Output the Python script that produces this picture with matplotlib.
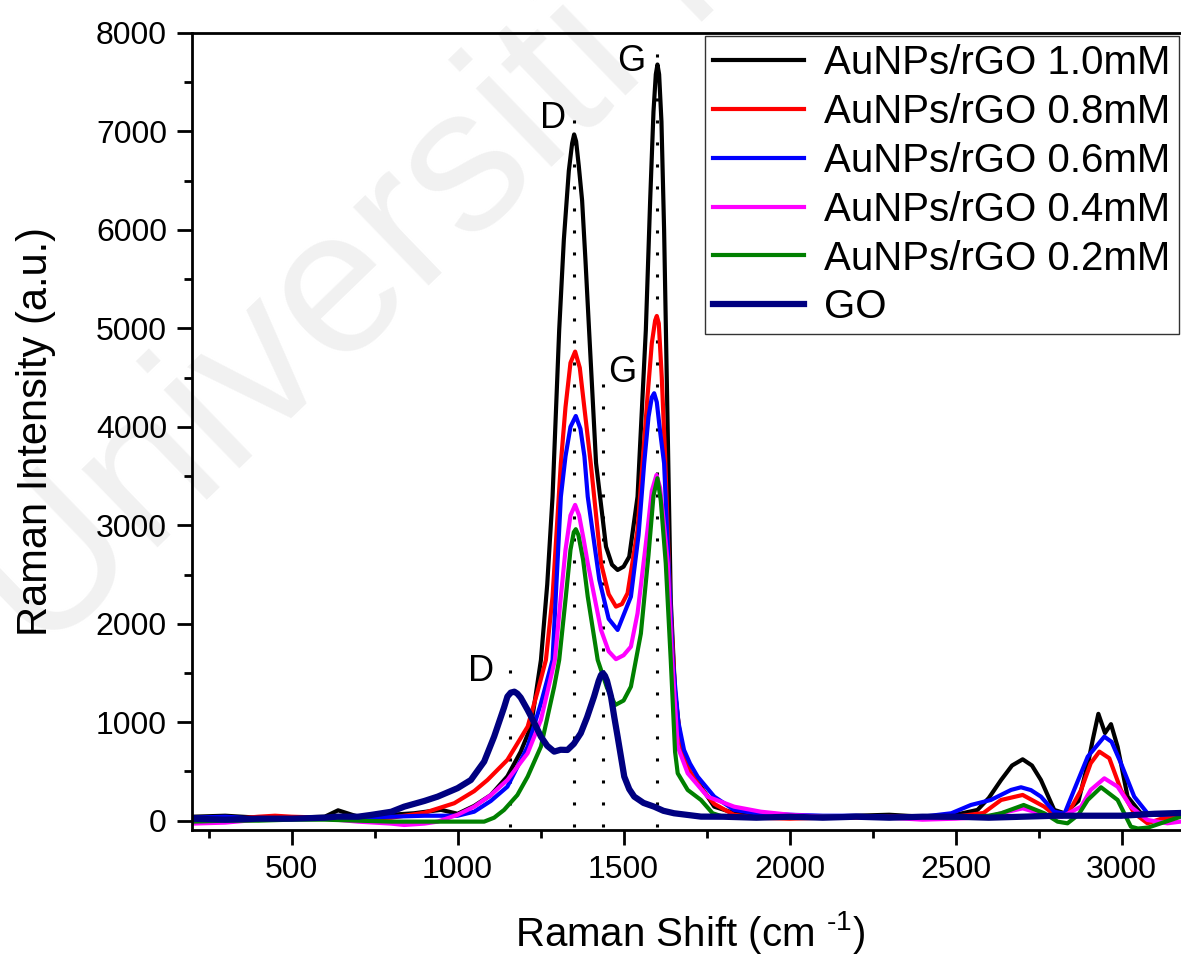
import matplotlib
matplotlib.use("Agg")
import matplotlib.pyplot as plt
from matplotlib.ticker import MultipleLocator

plt.rcParams['font.family'] = ['Liberation Sans', 'DejaVu Sans']
plt.rcParams['mathtext.fontset'] = 'custom'
plt.rcParams['mathtext.rm'] = 'Liberation Sans'
plt.rcParams['mathtext.it'] = 'Liberation Sans:italic'

# ---------------- data ----------------
x_10 = [200, 300, 400, 500, 600, 640, 700, 800, 869, 950, 1000, 1050, 1100, 1150, 1190, 1221,
        1251, 1270, 1286, 1306, 1320, 1335, 1345, 1351, 1357, 1365, 1375, 1385, 1396, 1417,
        1447, 1465, 1482, 1500, 1517, 1542, 1567, 1580, 1590, 1597, 1602, 1607, 1614, 1622,
        1630, 1642, 1655, 1670, 1682, 1700, 1733, 1773, 1832, 1900, 2000, 2100, 2200, 2300,
        2400, 2500, 2566, 2600, 2637, 2670, 2702, 2730, 2757, 2797, 2828, 2870, 2900, 2913,
        2930, 2950, 2968, 2988, 3018, 3058, 3100, 3150, 3200]
y_10 = [40, 50, 30, 30, 40, 105, 40, 60, 75, 110, 70, 150, 260, 450, 700, 955,
        1632, 2400, 3291, 4984, 5900, 6600, 6880, 6970, 6900, 6650, 6300, 5700, 4984, 3633,
        2783, 2600, 2546, 2580, 2681, 3291, 4984, 6300, 7200, 7580, 7680, 7580, 7100, 6000,
        4500, 2240, 1300, 850, 620, 480, 345, 142, 78, 50, 50, 40, 50, 60,
        40, 60, 109, 230, 413, 560, 623, 560, 413, 109, 75, 200, 600, 820,
        1085, 890, 980, 750, 244, 75, 60, 60, 70]

x_08 = [200, 300, 400, 450, 500, 600, 700, 800, 900, 990, 1050, 1090, 1150, 1211, 1240, 1266,
        1286, 1311, 1325, 1340, 1354, 1368, 1385, 1401, 1432, 1455, 1477, 1495, 1512, 1542,
        1572, 1585, 1595, 1600, 1606, 1615, 1625, 1640, 1655, 1670, 1682, 1700, 1733, 1773,
        1832, 1900, 2000, 2100, 2200, 2300, 2400, 2500, 2584, 2637, 2702, 2767, 2797, 2840,
        2878, 2907, 2933, 2963, 2998, 3038, 3078, 3120, 3160, 3200]
y_08 = [0, 10, 40, 50, 40, 30, 20, 30, 80, 177, 300, 413, 617, 955, 1300, 1632,
        2275, 3630, 4200, 4650, 4764, 4600, 4100, 3630, 2614, 2300, 2174, 2200, 2310, 2953,
        4307, 4850, 5080, 5126, 5050, 4500, 3700, 2240, 1300, 850, 650, 500, 330, 170,
        60, 30, 20, 30, 30, 40, 40, 40, 78, 210, 261, 142, 60, 80,
        312, 583, 701, 634, 312, 75, -27, 20, 40, 80]

x_06 = [200, 300, 400, 500, 600, 700, 800, 900, 1000, 1050, 1100, 1150, 1211, 1251, 1286,
        1311, 1325, 1340, 1356, 1370, 1382, 1392, 1427, 1455, 1482, 1522, 1545, 1562, 1575,
        1585, 1592, 1600, 1610, 1622, 1648, 1665, 1682, 1700, 1723, 1773, 1833, 1893, 2000,
        2100, 2200, 2300, 2400, 2487, 2546, 2606, 2667, 2697, 2727, 2757, 2797, 2828, 2857,
        2898, 2948, 2970, 2998, 3038, 3078, 3120, 3200]
y_06 = [30, 40, 20, 20, 30, 30, 40, 50, 50, 91, 200, 345, 752, 1192, 1632,
        3290, 3700, 4000, 4110, 3980, 3700, 3290, 2445, 2050, 1937, 2275, 2900, 3630, 4100,
        4300, 4341, 4250, 3950, 3630, 1632, 1000, 718, 580, 447, 244, 109, 78, 60,
        50, 50, 40, 40, 75, 159, 210, 312, 339, 310, 244, 91, 70, 312,
        650, 853, 800, 583, 244, 75, 60, 80]

x_04 = [200, 300, 400, 500, 600, 700, 800, 839, 900, 940, 1000, 1050, 1100, 1150, 1211, 1251,
        1293, 1311, 1325, 1340, 1354, 1366, 1380, 1392, 1432, 1455, 1477, 1500, 1522, 1542,
        1572, 1585, 1599, 1610, 1622, 1633, 1645, 1663, 1693, 1753, 1833, 1913, 2000, 2100,
        2200, 2300, 2400, 2500, 2600, 2637, 2702, 2767, 2820, 2878, 2907, 2948, 2988, 3028,
        3078, 3138, 3200]
y_04 = [-30, -20, 10, 20, 20, -10, -30, -44, -30, -10, 60, 142, 260, 413, 685, 1023,
        1632, 2275, 2750, 3100, 3207, 3100, 2850, 2614, 1937, 1720, 1640, 1680, 1767, 2106,
        2953, 3350, 3511, 3380, 3000, 2614, 1700, 752, 481, 244, 142, 91, 60, 40,
        40, 30, 10, 20, 40, 75, 125, 60, 40, 142, 312, 430, 345, 142,
        7, -27, 0]

x_02 = [200, 300, 400, 500, 600, 700, 800, 900, 1000, 1080, 1110, 1140, 1180, 1211, 1251,
        1291, 1306, 1326, 1340, 1350, 1356, 1364, 1378, 1392, 1422, 1450, 1475, 1500, 1522,
        1552, 1575, 1590, 1602, 1612, 1627, 1642, 1655, 1663, 1693, 1733, 1768, 1800, 1900,
        2000, 2100, 2200, 2300, 2400, 2500, 2600, 2637, 2705, 2767, 2807, 2837, 2870, 2898,
        2938, 2988, 3028, 3049, 3080, 3118, 3178, 3200]
y_02 = [-10, 0, 0, 10, 10, 0, -10, -10, -10, -10, 30, 109, 260, 447, 752,
        1361, 1632, 2275, 2750, 2930, 2960, 2900, 2650, 2275, 1632, 1350, 1175, 1220, 1361,
        1900, 2700, 3300, 3478, 3250, 2614, 1632, 700, 481, 312, 210, 75, 40, 30,
        30, 40, 40, 30, 40, 30, 50, 75, 159, 75, -10, -27, 60, 210,
        339, 210, -61, -80, -70, -27, 40, 50]

x_go = [200, 300, 400, 500, 600, 638, 700, 739, 800, 839, 900, 940, 1000, 1040, 1080, 1110,
        1140, 1150, 1160, 1171, 1180, 1190, 1211, 1230, 1251, 1270, 1291, 1310, 1331, 1350,
        1371, 1390, 1411, 1425, 1432, 1438, 1444, 1450, 1462, 1472, 1482, 1492, 1502, 1517,
        1532, 1560, 1592, 1620, 1652, 1700, 1733, 1800, 1900, 2000, 2100, 2200, 2300, 2400,
        2500, 2600, 2700, 2800, 2900, 3000, 3100, 3200]
y_go = [20, 10, 20, 20, 30, 41, 40, 58, 90, 142, 200, 244, 330, 413, 600, 853,
        1150, 1260, 1300, 1310, 1290, 1250, 1124, 1000, 853, 760, 701, 720, 718, 780,
        888, 1050, 1260, 1420, 1480, 1497, 1470, 1420, 1260, 1050, 853, 650, 447, 320,
        244, 180, 142, 100, 75, 55, 41, 40, 30, 40, 30, 40, 30, 40,
        40, 30, 40, 50, 50, 50, 70, 80]

series = [
    ("AuNPs/rGO 1.0mM", x_10, y_10, "#000000"),
    ("AuNPs/rGO 0.8mM", x_08, y_08, "#ff0000"),
    ("AuNPs/rGO 0.6mM", x_06, y_06, "#0000ff"),
    ("AuNPs/rGO 0.4mM", x_04, y_04, "#ff00ff"),
    ("AuNPs/rGO 0.2mM", x_02, y_02, "#008000"),
    ("GO", x_go, y_go, "#000080"),
]

# peak markers: position, top of dotted line, label, label position
peak_x = [1351, 1602, 1158, 1438]
peak_top = [7230, 7880, 1560, 4480]
peak_labels = ["D", "G", "D", "G"]
label_x = [1287, 1522, 1072, 1496]
label_y = [7127, 7711, 1515, 4552]

# ---------------- figure ----------------
W, H = 1181, 956
fig = plt.figure(figsize=(W / 100, H / 100), dpi=100)
ax = fig.add_axes([192 / W, (H - 830) / H, (1188 - 192) / W, (830 - 33) / H])
ax.set_facecolor('none')

fig.text(0.035, 0.31, "Universiti Malaya", rotation=44, rotation_mode='anchor',
         ha='left', va='baseline', fontsize=148, color='#f1f1f1', zorder=-5)

for px, top in zip(peak_x, peak_top):
    ax.plot([px, px], [-60, top], color='black', lw=2.2, dashes=(1, 6.2), zorder=1)

lines = []
for name, xs, ys, c in series:
    lw = 4.5 if name == "GO" else 3.0
    ln, = ax.plot(xs, ys, color=c, lw=lw, label=name, zorder=2,
                  solid_joinstyle='round')
    lines.append(ln)

for t, lx, ly in zip(peak_labels, label_x, label_y):
    ax.text(lx, ly, t, fontsize=26, ha='center', va='center', zorder=3)

ax.set_xlim(200, 3200)
ax.set_ylim(-95, 8000)
ax.xaxis.set_minor_locator(MultipleLocator(250))
ax.yaxis.set_major_locator(MultipleLocator(1000))
ax.yaxis.set_minor_locator(MultipleLocator(500))
ax.set_xticks([500, 1000, 1500, 2000, 2500, 3000])
ax.tick_params(which='major', direction='out', length=11, width=2, labelsize=23, pad=7)
ax.tick_params(which='minor', direction='out', length=6, width=2)
ax.tick_params(top=False, right=False)
for s in ['left', 'bottom', 'top']:
    ax.spines[s].set_linewidth(2)
ax.spines['right'].set_visible(False)

ax.set_xlabel(r"Raman Shift (cm $^{\text{-1}}$)", fontsize=29, labelpad=17)
ax.set_ylabel("Raman Intensity (a.u.)", fontsize=30, labelpad=29)

leg = fig.legend(handles=lines, loc='upper left', bbox_to_anchor=(705 / W, 1 - 36 / H),
                 fontsize=29, frameon=True, fancybox=False, handlelength=2.26,
                 handletextpad=0.5, labelspacing=0.27, borderpad=0.2, borderaxespad=0)
leg.get_frame().set_edgecolor('black')
leg.get_frame().set_linewidth(1.0)

fig.savefig("out.png", dpi=100)
